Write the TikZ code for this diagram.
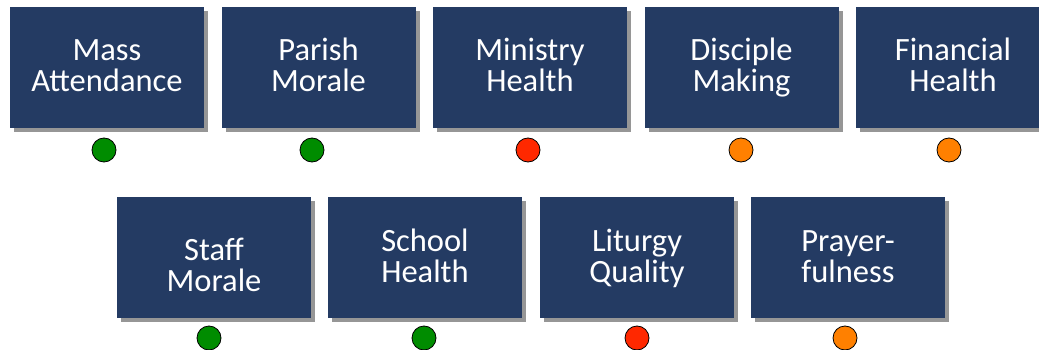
\documentclass[tikz,border=0pt]{standalone}
\usepackage{fontspec}
\setmainfont{Carlito}
\usetikzlibrary{shadows}
\definecolor{navy}{RGB}{36,59,99}
\definecolor{shade}{RGB}{150,150,150}
\definecolor{good}{RGB}{0,140,0}
\definecolor{bad}{RGB}{255,40,0}
\definecolor{warn}{RGB}{255,128,0}
\newcommand{\kpilabel}[3][26pt]{\rule{0pt}{#1}#2\\#3\rule[-8pt]{0pt}{8pt}}
\tikzset{
  kpi/.style={fill=navy, text=white, minimum width=194pt, minimum height=121pt,
    inner sep=0pt, align=center, font=\fontsize{32.5}{31}\selectfont,
    drop shadow={shadow xshift=4pt, shadow yshift=-4pt, fill=shade, opacity=1}},
  lamp/.style={circle, draw=black, line width=0.8pt, minimum size=24pt, inner sep=0pt}
}
\begin{document}
\begin{tikzpicture}[x=1pt,y=-1pt]
        \useasboundingbox (0,0) rectangle (1039,350);
        \node[kpi] (mass) at (107,67.5) {\kpilabel{Mass}{Attendance}};
        \node[kpi] (parish) at (318.5,67.5) {\kpilabel{Parish}{Morale}};
        \node[kpi] (ministry) at (530,67.5) {\kpilabel{Ministry}{Health}};
        \node[kpi] (disciple) at (741.5,67.5) {\kpilabel{Disciple}{Making}};
        \node[kpi] (financial) at (953,67.5) {\kpilabel{Financial}{Health}};
        \node[kpi] (staff) at (214,257.5) {\kpilabel[44pt]{Staff}{Morale}};
        \node[kpi] (school) at (425,257.5) {\kpilabel{School}{Health}};
        \node[kpi] (liturgy) at (637,257.5) {\kpilabel{Liturgy}{Quality}};
        \node[kpi] (prayer) at (848,257.5) {\kpilabel{Prayer-}{fulness}};
        \node[lamp, fill=good] (massok) at (104,150) {};
        \node[lamp, fill=good] (parishok) at (312,150) {};
        \node[lamp, fill=bad] (ministryok) at (528,150) {};
        \node[lamp, fill=warn] (discipleok) at (741,150) {};
        \node[lamp, fill=warn] (financialok) at (949,150) {};
        \node[lamp, fill=good] (staffok) at (209,338) {};
        \node[lamp, fill=good] (schoolok) at (424,338) {};
        \node[lamp, fill=bad] (liturgyok) at (637,338) {};
        \node[lamp, fill=warn] (prayerok) at (845,338) {};
\end{tikzpicture}
\end{document}
